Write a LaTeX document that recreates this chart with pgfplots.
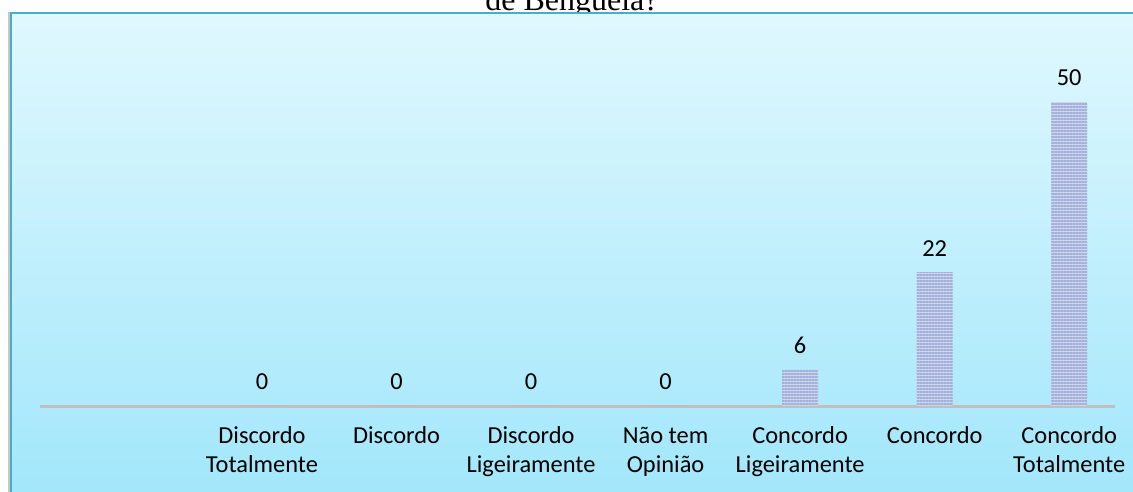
\documentclass[border=0pt]{standalone}
\usepackage{pgfplots}
\pgfplotsset{compat=1.18}
\usepackage{fontspec}
\setmainfont{Carlito}
\newfontfamily\titlefont{Liberation Serif}
\usetikzlibrary{patterns.meta}

\definecolor{bgtop}{HTML}{E0F8FE}
\definecolor{bgbot}{HTML}{A0E6FB}
\definecolor{framec}{HTML}{4BACC6}
\definecolor{barlight}{HTML}{CDD6EE}
\definecolor{bardark}{HTML}{A3B0DA}
\definecolor{axisgray}{HTML}{BFBFBF}

% fixed first-line height so all tick labels line up
\newcommand\fl{\rule{0pt}{19pt}}

\begin{document}
\begin{tikzpicture}[x=1pt,y=1pt]
\useasboundingbox (0,0) rectangle (1133,491);
\clip (0,0) rectangle (1133,491);
% title, mostly cut off at the top
\node[anchor=base, inner sep=0pt, font=\titlefont\fontsize{32}{36}\selectfont] at (572,480) {de Benguela?};
% chart area
\fill[black!22] (8,-20) rectangle (1150,479);
\shade[top color=bgtop, bottom color=bgbot, draw=framec, line width=2pt] (11,-20) rectangle (1150,478);

\begin{axis}[
    at={(40pt,85pt)}, anchor=south west,
    scale only axis,
    width=1075pt, height=334.4pt,
    xmin=-1.65, xmax=6.34,
    ymin=0, ymax=55,
    axis x line*=bottom,
    axis y line=none,
    x axis line style={draw=axisgray, line width=3pt, -},
    major tick length=0pt,
    ytick=\empty,
    xtick={0,1,2,3,4,5,6},
    xticklabels={\fl Discordo\\Totalmente, \fl Discordo, \fl Discordo\\Ligeiramente, \fl Não tem\\Opinião, \fl Concordo\\Ligeiramente, \fl Concordo, \fl Concordo\\Totalmente},
    xticklabel style={align=center, anchor=north, inner sep=0pt, yshift=-18.5pt,
        font=\fontsize{24.4}{29}\selectfont},
    ybar, bar width=36pt,
    nodes near coords,
    /pgf/number format/assume math mode=true,
    every node near coord/.append style={font=\fontsize{24.4}{29}\selectfont, inner sep=0pt, yshift=16pt},
    clip=false,
]
\addplot[draw=none, fill=barlight,
    postaction={pattern={Lines[angle=0,distance=3pt,line width=1.3pt]}, pattern color=bardark}]
    coordinates {(0,0) (1,0) (2,0) (3,0) (4,6) (5,22) (6,50)};
\end{axis}
\end{tikzpicture}
\end{document}
